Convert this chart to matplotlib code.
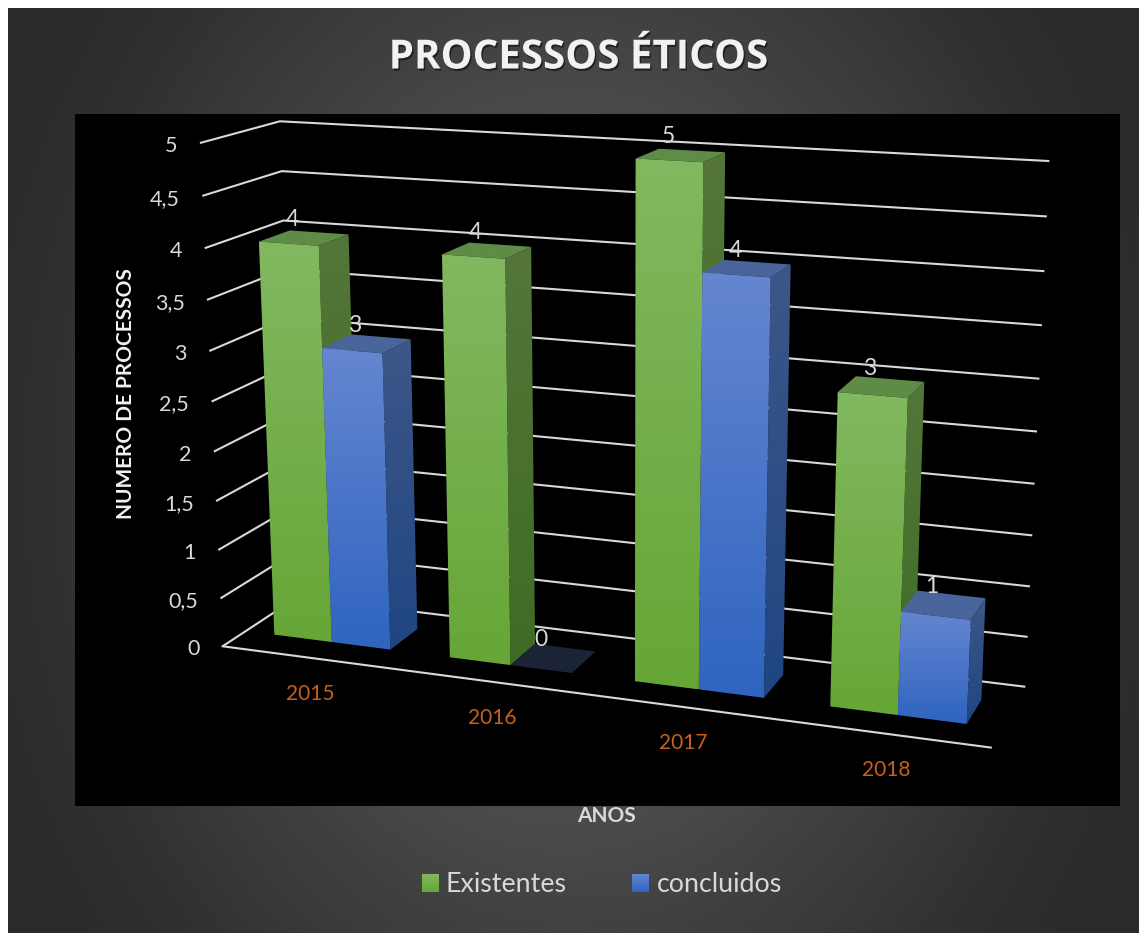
import numpy as np
import matplotlib
matplotlib.use('Agg')
import matplotlib.pyplot as plt
import matplotlib.patheffects as pe
from matplotlib.colors import LinearSegmentedColormap
from matplotlib.patches import Polygon, Rectangle

# chart data
years = ['2015', '2016', '2017', '2018']
existentes = [4, 4, 5, 3]
concluidos = [3, 0, 4, 1]
value_ticks = [0, 0.5, 1, 1.5, 2, 2.5, 3, 3.5, 4, 4.5, 5]
value_labels = ['0', '0,5', '1', '1,5', '2', '2,5', '3', '3,5', '4', '4,5', '5']

# camera: (across, depth, value) -> picture pixel, used to fit the 3D projection
camera_world = [(0, 0, 0), (1, 0, 0), (0, 1, 0), (1, 1, 0), (0, 0, 5), (0, 1, 5), (1, 1, 5),
                (0, 0, 3), (1, 1, 3), (0, 1, 4),
                (.5/12, .3, 4), (1.5/12, .7, 4), (2.5/12, .3, 0), (.5/12, .3, 0),
                (6.5/12, .3, 5), (7.5/12, .7, 5), (8.5/12, .3, 0),
                (11.5/12, .3, 0), (11.5/12, .7, 1), (9.5/12, .3, 3), (9.5/12, .3, 0)]
camera_pixel = [(223.3, 646.7), (990.7, 748), (296, 597), (1025.7, 687), (199.3, 143), (280, 121), (1049.3, 161),
                (208.7, 351), (1039.3, 378.7), (284.3, 220.7),
                (259.3, 241.7), (348.7, 234.7), (390.3, 649.3), (274.7, 634.7),
                (635.7, 158.3), (725, 152.3), (764, 697.3),
                (966.7, 723.7), (985.3, 598.7), (837.7, 392), (830.3, 706)]


def fit_camera(world, pixel):
    rows = []
    for (u, v, w), (x, y) in zip(world, pixel):
        x, y = x / 1000, y / 1000
        rows.append([u, v, w, 1, 0, 0, 0, 0, -x*u, -x*v, -x*w, -x])
        rows.append([0, 0, 0, 0, u, v, w, 1, -y*u, -y*v, -y*w, -y])
    return np.linalg.svd(np.array(rows))[2][-1].reshape(3, 4)


M = fit_camera(camera_world, camera_pixel)


def proj(u, v, w):
    p = M @ np.array([u, v, w, 1.0])
    return (1000 * p[0] / p[2], 1000 * p[1] / p[2])


fig = plt.figure(figsize=(11.39, 9.33), dpi=100, facecolor='white')
ax = fig.add_axes([0, 0, 1, 1])
ax.set_axis_off()
plt.rcParams['font.family'] = ['Lato', 'DejaVu Sans']

# dark background with a soft light in the middle
yy, xx = np.mgrid[8:933, 8:1139]
dist = np.sqrt(((xx - 570) / 620.0)**2 + ((yy - 470) / 800.0)**2)
shade = np.clip(dist, 0, 1)
bg_map = LinearSegmentedColormap.from_list('bg', [(0, '#4c4c4c'), (.45, '#4a4a4a'), (.58, '#414141'),
                                                  (.85, '#303030'), (1, '#2b2b2b')])
ax.imshow(shade, extent=(8, 1139, 933, 8), aspect='auto', zorder=0, cmap=bg_map, vmin=0, vmax=1)
ax.add_patch(Rectangle((75, 114), 1045, 692, facecolor='black', edgecolor='none', zorder=1))
ax.set_xlim(0, 1139)
ax.set_ylim(933, 0)

line_color = '#d9d9d9'
text_color = '#d9d9d9'

# walls
for t, lab in zip(value_ticks, value_labels):
    pts = [proj(0, 0, t), proj(0, 1, t), proj(1, 1, t)]
    ax.plot([p[0] for p in pts], [p[1] for p in pts], color=line_color, lw=1.5, zorder=2,
            solid_capstyle='butt', solid_joinstyle='miter')
    x, y = proj(0, 0, t)
    ax.text(x - 22.5, y + 3, lab, color=text_color, fontsize=15.5, ha='right', va='center', zorder=20)
front = [proj(0, 0, 0), proj(1, 0, 0)]
ax.plot([p[0] for p in front], [p[1] for p in front], color=line_color, lw=1.5, zorder=2)

z = [3]


def grad_poly(pts, top, bottom):
    # polygon filled with a vertical gradient
    pts = np.array(pts)
    z[0] += 1
    patch = Polygon(pts, closed=True, facecolor='none', edgecolor='none', zorder=z[0])
    ax.add_patch(patch)
    cm = LinearSegmentedColormap.from_list('g', [top, bottom])
    im = ax.imshow(np.linspace(0, 1, 256).reshape(-1, 1), extent=(pts[:, 0].min(), pts[:, 0].max(), pts[:, 1].max(), pts[:, 1].min()),
                   aspect='auto', cmap=cm, zorder=z[0], interpolation='bilinear')
    im.set_clip_path(patch)


def box(u0, u1, val, faces):
    v0, v1 = .3, .7
    if val == 0:
        z[0] += 1
        ax.add_patch(Polygon([proj(u0, v0, 0), proj(u1, v0, 0), proj(u1, v1, 0), proj(u0, v1, 0)],
                             facecolor=faces['zero'], edgecolor='none', zorder=z[0]))
        return
    grad_poly([proj(u1, v0, val), proj(u1, v1, val), proj(u1, v1, 0), proj(u1, v0, 0)], *faces['side'])
    grad_poly([proj(u0, v0, val), proj(u1, v0, val), proj(u1, v1, val), proj(u0, v1, val)], faces['top'], faces['top'])
    grad_poly([proj(u0, v0, val), proj(u1, v0, val), proj(u1, v0, 0), proj(u0, v0, 0)], *faces['front'])


green = {'front': ('#82b860', '#66a636'), 'side': ('#54763a', '#3f6b24'), 'top': '#5f8c47', 'zero': '#1b2336'}
blue = {'front': ('#6586d0', '#2f64c0'), 'side': ('#3d5789', '#1f4681'), 'top': '#49659b', 'zero': '#1b2336'}

# bars: gap width of one bar between the categories
for i, year in enumerate(years):
    left = (3*i + .5) / 12
    mid = (3*i + 1.5) / 12
    right = (3*i + 2.5) / 12
    box(left, mid, existentes[i], green)
    box(mid, right, concluidos[i], blue)
    for u0, u1, val in ((left, mid, existentes[i]), (mid, right, concluidos[i])):
        x, y = proj((u0 + u1) / 2, .5, val)
        ax.text(x - 12, y - 18.5, str(val), color=text_color, fontsize=16.5, ha='center', va='center', zorder=50)
    x, y = proj((left + right) / 2, 0, 0)
    ax.text(x + 1, y + 36, year, color='#c8601a', fontsize=15, ha='center', va='center', zorder=50)

# titles
ax.text(578.5, 58, 'PROCESSOS ÉTICOS', color='#f2f2f2', fontsize=29, fontweight='bold', family=['Open Sans', 'DejaVu Sans'],
        ha='center', va='center', zorder=60,
        path_effects=[pe.withSimplePatchShadow(offset=(1, -1.5), shadow_rgbFace='black', alpha=.5)])
ax.text(126, 394, 'NUMERO DE PROCESSOS', color='#f2f2f2', fontsize=15, fontweight='bold', rotation=90,
        ha='center', va='center', zorder=60)
ax.text(606.5, 816, 'ANOS', color='#d9d9d9', fontsize=15, fontweight='bold', ha='center', va='center', zorder=60)

# legend
grad_poly([(422, 874), (439, 874), (439, 892), (422, 892)], '#82b860', '#66a636')
grad_poly([(632, 874), (649, 874), (649, 892), (632, 892)], '#6586d0', '#2f64c0')
ax.text(446, 884, 'Existentes', color=text_color, fontsize=19.3, ha='left', va='center', zorder=60)
ax.text(657, 884, 'concluidos', color=text_color, fontsize=19.3, ha='left', va='center', zorder=60)

ax.set_xlim(0, 1139)
ax.set_ylim(933, 0)
fig.savefig('out.png', dpi=100, facecolor='white')
